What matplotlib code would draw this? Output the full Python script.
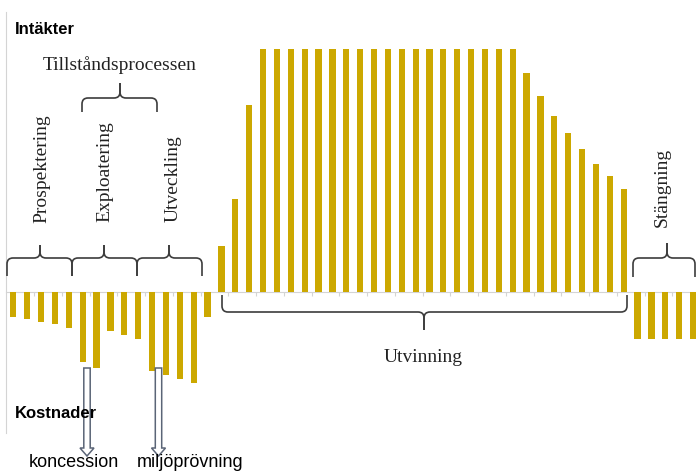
import numpy as np
import matplotlib
matplotlib.use("Agg")
from matplotlib import pyplot as plt
from matplotlib.path import Path
from matplotlib.patches import PathPatch, Polygon

# bar values per phase (revenue > 0, cost < 0), full production = 10
prospektering = [-1.03, -1.11, -1.23, -1.32, -1.48]
exploatering = [-2.88, -3.13, -1.60, -1.77, -1.93]
utveckling = [-3.25, -3.42, -3.58, -3.74, -1.03]
utvinning = [1.89, 3.83, 7.70] + [10.0] * 19 + [9.01, 8.07, 7.24, 6.54, 5.88, 5.27, 4.77, 4.24]
stangning = [-1.93, -1.93, -1.93, -1.93, -1.93]

values = np.array(prospektering + exploatering + utveckling + utvinning + stangning)
positions = np.arange(len(values))

GOLD = '#CCA800'
GRAY = '#D4D4D4'
DARK = '#3C3C3C'
W, H = 696, 472

fig = plt.figure(figsize=(W / 100, H / 100), dpi=100)

# main chart area in pixel terms: x 6.4..700, y 12..433
left, right, top, bottom = 6.4, 700.0, 12.0, 433.0
ax = fig.add_axes([left / W, (H - bottom) / H, (right - left) / W, (bottom - top) / H])
ax.bar(positions, values, width=0.45, color=GOLD, zorder=3)
ax.set_xlim(-0.5, len(values) - 0.5)
ax.set_ylim(-5.80, 11.52)
ax.spines['top'].set_visible(False)
ax.spines['right'].set_visible(False)
ax.spines['bottom'].set_position(('data', 0))
ax.spines['bottom'].set_color(GRAY)
ax.spines['left'].set_color(GRAY)
ax.set_xticks(np.arange(1.5, len(values) - 1, 2))
ax.tick_params(axis='x', length=3, color=GRAY, labelbottom=False)
ax.set_yticks([])
ax.patch.set_alpha(0)

# overlay in pixel coordinates for braces, arrows and labels
ov = fig.add_axes([0, 0, 1, 1], zorder=5)
ov.set_xlim(0, W)
ov.set_ylim(H, 0)
ov.axis('off')
ov.patch.set_alpha(0)


def brace(x0, x1, xt, y_end, y_mid, y_tip, r=6):
    d = 1 if y_tip > y_mid else -1
    for xe in (x0, x1):
        s = 1 if xt > xe else -1
        verts = [(xe, y_end), (xe, y_mid - d * r), (xe, y_mid), (xe + s * r, y_mid),
                 (xt - s * r, y_mid), (xt, y_mid), (xt, y_mid + d * r), (xt, y_tip)]
        codes = [Path.MOVETO, Path.LINETO, Path.CURVE3, Path.CURVE3,
                 Path.LINETO, Path.CURVE3, Path.CURVE3, Path.LINETO]
        ov.add_patch(PathPatch(Path(verts, codes), fill=False, edgecolor=DARK, lw=1.2))


brace(7, 72, 40, 276, 258, 245)
brace(72, 137, 104, 276, 258, 245)
brace(137, 202, 169, 276, 258, 245)
brace(82, 157, 120, 112, 98, 83)
brace(633, 695, 667, 277, 258, 243)
brace(222, 627, 424, 295, 312, 330)


def hollow_arrow(xc):
    pts = [(xc - 3.2, 368), (xc + 3.2, 368), (xc + 3.2, 448), (xc + 7, 448),
           (xc, 456), (xc - 7, 448), (xc - 3.2, 448)]
    ov.add_patch(Polygon(pts, closed=True, facecolor='white', edgecolor='#5B6577', lw=1.1))


hollow_arrow(87)
hollow_arrow(158.5)

serif = 'Liberation Serif'
sans = 'Liberation Sans'
ov.text(15, 29, 'Intäkter', family=sans, fontsize=12, weight='bold', ha='left', va='center')
ov.text(15, 414, 'Kostnader', family=sans, fontsize=12, weight='bold', ha='left', va='center')
ov.text(120, 65, 'Tillståndsprocessen', family=serif, fontsize=14, ha='center', va='center', color='#222222')
for x, yb, label in [(42, 223, 'Prospektering'), (105, 222, 'Exploatering'),
                     (173, 222, 'Utveckling'), (662, 227, 'Stängning')]:
    ov.text(x, yb, label, family=serif, fontsize=14, rotation=90, rotation_mode='anchor',
            ha='left', va='center', color='#222222')
ov.text(423, 357, 'Utvinning', family=serif, fontsize=14, ha='center', va='center', color='#222222')
ov.text(74, 467, 'koncession', family=sans, fontsize=13, ha='center', va='baseline')
ov.text(190, 467, 'miljöprövning', family=sans, fontsize=13, ha='center', va='baseline')

fig.savefig('out.png', dpi=100)
